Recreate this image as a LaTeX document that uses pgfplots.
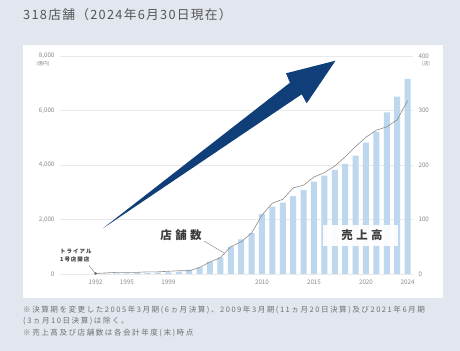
\documentclass[border=0pt]{standalone}
\usepackage{pgfplots}
\pgfplotsset{compat=1.18}
\usepackage{fontspec}
\setmainfont{Noto Sans CJK JP}
\newfontfamily\jpsp[LetterSpace=18]{Noto Sans CJK JP}
\newfontfamily\jpnote[LetterSpace=20]{Noto Sans CJK JP}
\newfontfamily\jpti[LetterSpace=10]{Noto Sans CJK JP}
\newfontfamily\jpwide[LetterSpace=30]{Noto Sans CJK JP}
\definecolor{bg}{HTML}{E2E7EF}
\definecolor{barc}{HTML}{BDD7EE}
\definecolor{linec}{HTML}{8C8C8C}
\definecolor{gridc}{HTML}{E9E9E9}
\definecolor{tickc}{HTML}{8A8A8A}
\definecolor{navy}{HTML}{0F3E78}
\definecolor{annc}{HTML}{3C3C3C}
\definecolor{notec}{HTML}{707070}
\definecolor{titlec}{HTML}{555555}

\pgfplotstableread{
i sales
0 5
1 15
2 20
3 25
4 30
5 40
6 50
7 60
8 80
9 150
10 245
11 450
12 610
13 1000
14 1270
15 1500
16 2200
17 2470
18 2615
19 2860
20 3080
21 3390
22 3610
23 3820
24 4040
25 4340
26 4820
27 5220
28 5930
29 6510
30 7160
}\salestable

\pgfplotstableread{
i stores
0 1
1 2
2 3
3 3
4 3
5 4
6 4
7 5
8 6
9 6
10 12
11 22
12 30
13 50
14 59
15 75
16 108
17 130
18 137
19 158
20 163
21 178
22 186
23 198
24 215
25 234
26 251
27 264
28 270
29 283
30 318
}\storetable

\begin{document}
\begin{tikzpicture}
\fill[bg] (0,0) rectangle (460bp,351bp);
\useasboundingbox (0,0) rectangle (460bp,351bp);
\fill[white] (23bp,53bp) rectangle (443bp,306bp);

\begin{axis}[
  at={(60bp,77bp)}, anchor=south west, scale only axis,
  width=353bp, height=218bp,
  xmin=-3.42, xmax=30.52, ymin=0, ymax=8000,
  axis line style={draw=none}, major tick length=0,
  ytick={0,2000,4000,6000,8000},
  ymajorgrids, grid style={gridc, line width=0.5pt},
  xtick={0,3,7,16,21,26,30},
  xticklabels={1992,1995,1999,2010,2015,2020,2024},
  ticklabel style={font=\fontsize{6.3}{7}\selectfont, text=tickc},
  yticklabel style={xshift=-2bp},
  xticklabel style={yshift=-2bp},
  /pgf/number format/1000 sep={,},
  /pgf/number format/assume math mode=true,
  scaled y ticks=false,
]
\addplot[ybar, bar width=6bp, fill=barc, draw=none] table[x=i, y=sales] {\salestable};
\end{axis}

\begin{axis}[
  at={(60bp,77bp)}, anchor=south west, scale only axis,
  width=353bp, height=218bp,
  xmin=-3.42, xmax=30.52, ymin=0, ymax=400,
  axis line style={draw=none}, major tick length=0,
  ytick={0,100,200,300,400}, xtick=\empty,
  yticklabel pos=right,
  ticklabel style={font=\fontsize{6.3}{7}\selectfont, text=tickc},
  yticklabel style={anchor=west, xshift=2bp},
  /pgf/number format/assume math mode=true,
]
\addplot[linec, line width=0.6pt] table[x=i, y=stores] {\storetable};
\addplot[only marks, mark=*, mark size=0.9bp, annc] coordinates {(0,1)};
\end{axis}

\begin{scope}[x=1bp, y=-1bp, yshift=351bp]
  % units
  \node[font=\fontsize{5}{6}\selectfont, text=tickc] at (43,64) {(億円)};
  \node[font=\fontsize{5}{6}\selectfont, text=tickc] at (426,64) {(店)};
  % big arrow
  \fill[navy] (103,228.3) -- (290,82.7) -- (286,73.3) -- (335.5,60.7) -- (306.7,103.3) -- (301.7,94.3) -- cycle;
  % store count label
  \draw[linec, line width=0.5pt] (204,241) -- (224,253);
  \node[font=\jpwide\bfseries\fontsize{11.5}{12}\selectfont, text=annc] at (181,235) {店舗数};
  % first store
  \draw[linec, line width=0.5pt] (89,265.5) -- (95.6,273.8);
  \node[font=\jpsp\bfseries\fontsize{5.5}{7}\selectfont, text=annc, anchor=west, inner sep=0] at (60,251) {トライアル};
  \node[font=\jpsp\bfseries\fontsize{5.5}{7}\selectfont, text=annc, anchor=west, inner sep=0] at (60,259.5) {1号店開店};
  % sales label box
  \fill[white, opacity=0.92] (323,225) rectangle (398,246);
  \node[font=\jpwide\bfseries\fontsize{11.5}{12}\selectfont, text=annc] at (362,235.5) {売上高};
  % title
  \node[font=\jpti\fontsize{12.8}{14}\selectfont, text=titlec, anchor=west, inner sep=0] at (23,14.5) {318店舗（2024年6月30日現在）};
  % notes
  \node[font=\jpnote\fontsize{7.6}{9}\selectfont, text=notec, anchor=west, inner sep=0] at (23,310) {※決算期を変更した2005年3月期(6ヵ月決算)、2009年3月期(11ヵ月20日決算)及び2021年6月期};
  \node[font=\jpnote\fontsize{7.6}{9}\selectfont, text=notec, anchor=west, inner sep=0] at (23,321.5) {(3ヵ月10日決算)は除く。};
  \node[font=\jpnote\fontsize{7.6}{9}\selectfont, text=notec, anchor=west, inner sep=0] at (23,333) {※売上高及び店舗数は各会計年度(末)時点};
\end{scope}
\end{tikzpicture}
\end{document}
